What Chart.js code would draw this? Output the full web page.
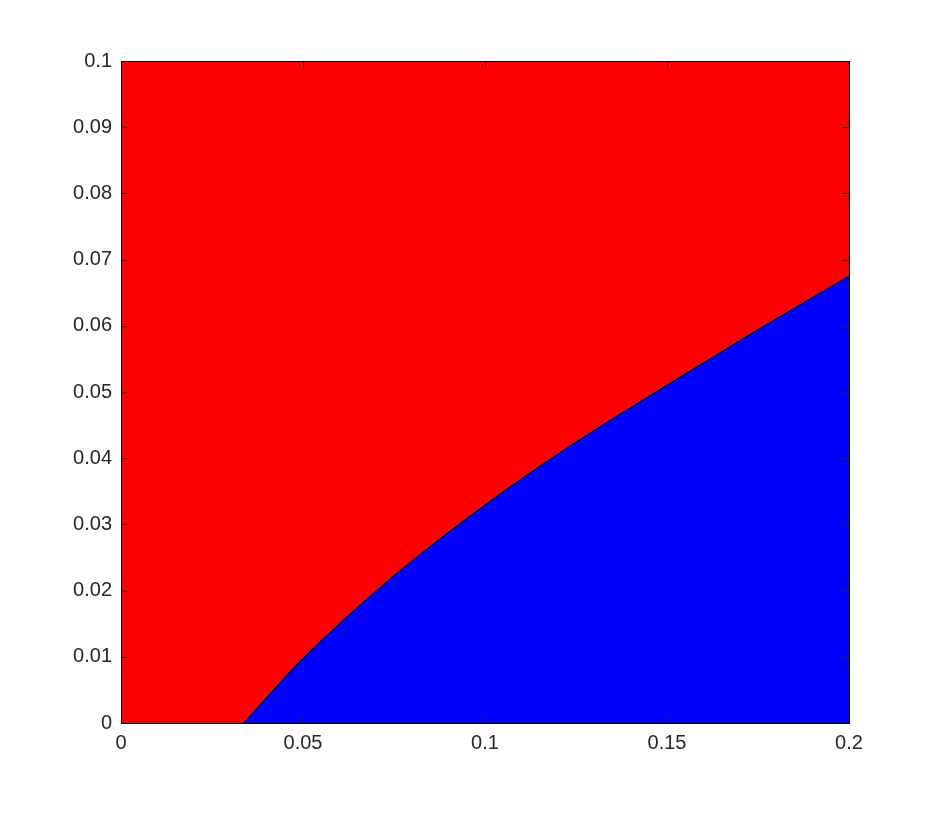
<!DOCTYPE html>
<html>
<head>
<meta charset="utf-8">
<script src="https://cdn.jsdelivr.net/npm/chart.js@4"></script>
<style>
  html, body { margin: 0; padding: 0; background: #fff; }
  #wrap { width: 938px; height: 814px; }
</style>
</head>
<body>
<div id="wrap"><canvas id="grafico"></canvas></div>
<script>
// Frontera entre las dos regiones
const fronteraX = [0.0338, 0.04, 0.05, 0.075, 0.1, 0.125, 0.15, 0.175, 0.2];
const fronteraY = [0, 0.0038, 0.0097, 0.0222, 0.0329, 0.0424, 0.051, 0.0594, 0.0675];

// Ticks de los ejes
const ticksX = [0, 0.05, 0.1, 0.15, 0.2];
const ticksY = [0, 0.01, 0.02, 0.03, 0.04, 0.05, 0.06, 0.07, 0.08, 0.09, 0.1];

const colorArriba = '#ff0000';
const colorAbajo = '#0000ff';
const fuente = { family: 'Liberation Sans, Arial, Helvetica, sans-serif', size: 20 };

// Fondo rojo del area, caja y ticks hacia dentro (estilo MATLAB)
const marcoPlugin = {
  id: 'marco',
  beforeDatasetsDraw(chart) {
    const { ctx, chartArea: a } = chart;
    ctx.save();
    ctx.fillStyle = colorArriba;
    ctx.fillRect(a.left, a.top, a.right - a.left, a.bottom - a.top);
    ctx.restore();
  },
  afterDatasetsDraw(chart) {
    const { ctx, chartArea: a, scales } = chart;
    const largo = 7;
    ctx.save();
    ctx.strokeStyle = '#262626';
    ctx.lineWidth = 1;
    ctx.beginPath();
    ticksX.forEach(v => {
      const px = Math.round(scales.x.getPixelForValue(v)) + 0.5;
      ctx.moveTo(px, a.bottom); ctx.lineTo(px, a.bottom - largo);
      ctx.moveTo(px, a.top); ctx.lineTo(px, a.top + largo);
    });
    ticksY.forEach(v => {
      const py = Math.round(scales.y.getPixelForValue(v)) + 0.5;
      ctx.moveTo(a.left, py); ctx.lineTo(a.left + largo, py);
      ctx.moveTo(a.right, py); ctx.lineTo(a.right - largo, py);
    });
    ctx.stroke();
    ctx.strokeStyle = '#000';
    ctx.strokeRect(Math.round(a.left) + 0.5, Math.round(a.top) + 0.5,
      Math.round(a.right - a.left), Math.round(a.bottom - a.top));
    ctx.restore();
  }
};

const puntos = fronteraX.map((x, i) => ({ x: x, y: fronteraY[i] }));

new Chart(document.getElementById('grafico'), {
  type: 'scatter',
  data: {
    datasets: [{
      data: puntos,
      showLine: true,
      fill: 'start',
      backgroundColor: colorAbajo,
      borderColor: '#000',
      borderWidth: 1.2,
      pointRadius: 0,
      cubicInterpolationMode: 'monotone'
    }]
  },
  options: {
    responsive: true,
    maintainAspectRatio: false,
    animation: false,
    layout: { padding: { top: 61, right: 89, left: 0, bottom: 0 } },
    plugins: {
      legend: { display: false },
      tooltip: { enabled: false }
    },
    scales: {
      x: {
        type: 'linear',
        min: 0,
        max: 0.2,
        afterBuildTicks: (s) => { s.ticks = ticksX.map(v => ({ value: v })); },
        afterFit: (s) => { s.height = 91; },
        grid: { display: false, drawTicks: false },
        border: { display: false },
        ticks: {
          padding: 8,
          color: '#262626',
          font: fuente,
          callback: (v) => String(+v.toFixed(2))
        }
      },
      y: {
        type: 'linear',
        min: 0,
        max: 0.1,
        afterBuildTicks: (s) => { s.ticks = ticksY.map(v => ({ value: v })); },
        afterFit: (s) => { s.width = 121; },
        grid: { display: false, drawTicks: false },
        border: { display: false },
        ticks: {
          padding: 9,
          color: '#262626',
          font: fuente,
          callback: (v) => String(+v.toFixed(2))
        }
      }
    }
  },
  plugins: [marcoPlugin]
});
</script>
</body>
</html>
